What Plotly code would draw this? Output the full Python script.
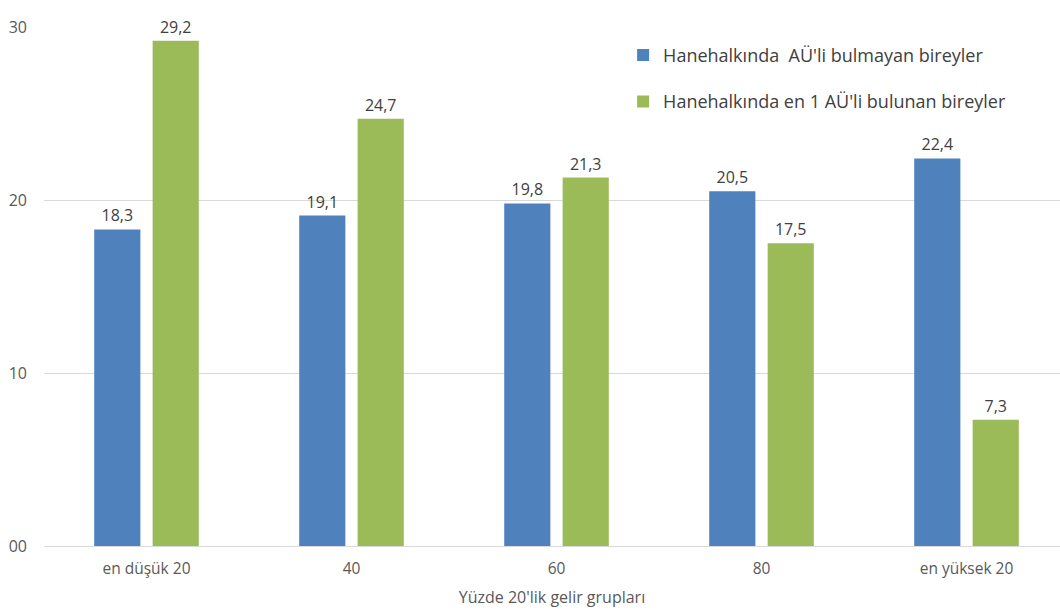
import plotly.graph_objects as go

categories = ["en düşük 20", "40", "60", "80", "en yüksek 20"]
series_names = ["Hanehalkında  AÜ'li bulmayan bireyler", "Hanehalkında en 1 AÜ'li bulunan bireyler"]
no_au = [18.3, 19.1, 19.8, 20.5, 22.4]
with_au = [29.2, 24.7, 21.3, 17.5, 7.3]
y_ticks = [0, 10, 20, 30]
y_tick_labels = ["00", "10", "20", "30"]

colors = ["#4F81BD", "#9BBB59"]
font_family = "'Open Sans', Lato, sans-serif"


def fmt(v):
    return f"{v:.1f}".replace(".", ",")


fig = go.Figure()
for i, (name, vals) in enumerate(zip(series_names, [no_au, with_au])):
    fig.add_trace(go.Bar(
        x=categories, y=vals, name=name,
        marker=dict(color=colors[i], line=dict(width=0)),
        text=[fmt(v) for v in vals], textposition="outside",
        textfont=dict(size=16, color="#404040", family=font_family),
        cliponaxis=False, legendgroup=f"g{i}",
    ))

fig.update_layout(
    width=1060, height=614,
    margin=dict(l=44, r=0, t=27, b=68),
    paper_bgcolor="white", plot_bgcolor="white",
    barmode="group", bargap=0.43, bargroupgap=0.21,
    font=dict(family=font_family, color="#595959", size=14),
    showlegend=True,
    legend=dict(x=0.57, y=0.981, xanchor="left", yanchor="top",
                font=dict(size=18, color="#404040"), tracegroupgap=20,
                itemwidth=30, bgcolor="rgba(0,0,0,0)"),
    xaxis=dict(range=[-0.5, 4.456], showgrid=False, showline=True,
               linecolor="#D9D9D9", linewidth=1, ticks="",
               tickfont=dict(size=15.5, color="#595959"), ticklabelstandoff=8,
               title=dict(text="Yüzde 20'lik gelir grupları", standoff=14,
                          font=dict(size=16, color="#595959"))),
    yaxis=dict(range=[0, 30], tickvals=y_ticks, ticktext=y_tick_labels,
               showgrid=True, gridcolor="#D9D9D9", gridwidth=1,
               zeroline=False, showline=False, ticks="",
               tickfont=dict(size=16, color="#595959"), ticklabelstandoff=16),
)

fig.write_html("out.html")
